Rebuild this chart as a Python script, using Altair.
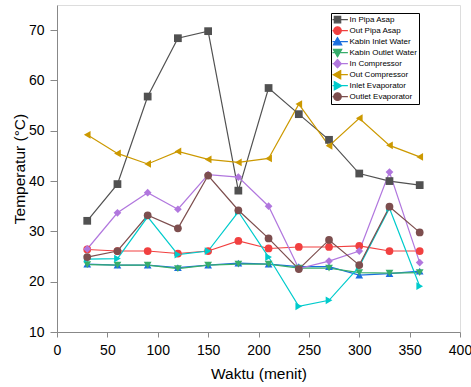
import math
import altair as alt
import pandas as pd

minutes = [30, 60, 90, 120, 150, 180, 210, 240, 270, 300, 330, 360]
series_names = ["In Pipa Asap", "Out Pipa Asap", "Kabin Inlet Water", "Kabin Outlet Water",
                "In Compressor", "Out Compressor", "Inlet Evaporator", "Outlet Evaporator"]
in_pipa_asap = [32.1, 39.4, 56.8, 68.4, 69.8, 38.1, 58.5, 53.3, 48.2, 41.5, 40.0, 39.2]
out_pipa_asap = [26.4, 26.1, 26.1, 25.6, 26.1, 28.1, 26.6, 26.9, 26.9, 27.1, 26.1, 26.1]
kabin_inlet_water = [23.5, 23.3, 23.3, 22.8, 23.3, 23.7, 23.5, 23.0, 23.0, 21.3, 21.6, 22.1]
kabin_outlet_water = [23.4, 23.3, 23.3, 22.6, 23.3, 23.5, 23.5, 22.7, 22.7, 21.8, 21.7, 21.8]
in_compressor = [26.5, 33.7, 37.7, 34.4, 41.3, 40.8, 35.0, 22.6, 24.1, 26.1, 41.8, 23.8]
out_compressor = [49.2, 45.5, 43.4, 45.9, 44.3, 43.7, 44.5, 55.3, 47.0, 52.5, 47.1, 44.8]
inlet_evaporator = [24.5, 24.6, 32.9, 25.4, 26.1, 33.9, 24.9, 15.1, 16.3, 23.0, 34.6, 19.1]
outlet_evaporator = [24.9, 26.1, 33.2, 30.6, 41.1, 34.2, 28.6, 22.5, 28.3, 23.3, 34.9, 29.8]

all_series = [in_pipa_asap, out_pipa_asap, kabin_inlet_water, kabin_outlet_water,
              in_compressor, out_compressor, inlet_evaporator, outlet_evaporator]
colors = ["#515151", "#F14040", "#1A6FDF", "#37AD6B", "#B177DE", "#CC9900", "#00CBCC", "#7D4E4E"]
shapes = ["square", "circle", "triangle-up", "triangle-down", "diamond",
          "triangle-left", "triangle-right", "circle"]

# legend glyphs: a short line through the marker (custom SVG paths in [-1, 1] units)
line_part = "M-2.6,0L2.6,0"
circle_path = "M" + "L".join(
    f"{0.95 * math.cos(2 * math.pi * k / 16):.3f},{0.95 * math.sin(2 * math.pi * k / 16):.3f}"
    for k in range(16)) + "Z"
legend_marks = [
    "M-0.8,-0.8L0.8,-0.8L0.8,0.8L-0.8,0.8Z",
    circle_path,
    "M0,-1.05L1.05,0.8L-1.05,0.8Z",
    "M0,1.05L1.05,-0.8L-1.05,-0.8Z",
    "M0,-1.05L0.95,0L0,1.05L-0.95,0Z",
    "M-1.05,0L0.8,-1.05L0.8,1.05Z",
    "M1.05,0L-0.8,-1.05L-0.8,1.05Z",
    circle_path,
]
legend_paths = [line_part + m for m in legend_marks]

point_keys = ["pt " + n for n in series_names]
all_keys = series_names + point_keys

rows = []
for name, pk, vals in zip(series_names, point_keys, all_series):
    for m, v in zip(minutes, vals):
        rows.append({"minute": m, "value": v, "series": name, "pkey": pk})
df = pd.DataFrame(rows)

FONT = "Liberation Sans"

x_enc = alt.X("minute:Q", scale=alt.Scale(domain=[0, 400], nice=False),
              axis=alt.Axis(values=list(range(0, 401, 25)),
                            labelExpr="datum.value % 50 === 0 ? datum.label : ''",
                            tickSize={"condition": {"test": "datum.value % 50 === 0", "value": 5}, "value": 3},
                            title="Waktu (menit)", grid=False, labelFontSize=14, titleFontSize=15.5,
                            titleFontWeight="normal", labelPadding=6, titlePadding=9,
                            labelFlush=False))
y_enc = alt.Y("value:Q", scale=alt.Scale(domain=[10, 75], nice=False, zero=False),
              axis=alt.Axis(values=list(range(10, 76, 5)),
                            labelExpr="datum.value % 10 === 0 ? datum.label : ''",
                            tickSize={"condition": {"test": "datum.value % 10 === 0", "value": 7}, "value": 4},
                            title="Temperatur (°C)", grid=False, labelFontSize=14, titleFontSize=15.5,
                            titleFontWeight="normal", labelPadding=6, titlePadding=1, labelFlush=False))

color_scale = alt.Scale(domain=series_names, range=colors)
key_color_scale = alt.Scale(domain=all_keys, range=colors + colors)
key_shape_scale = alt.Scale(domain=all_keys, range=legend_paths + shapes)

leg = alt.Legend(title=None, orient="none", legendX=274, legendY=8, values=series_names,
                 labelFontSize=8, labelFont=FONT, labelColor="#000000",
                 symbolSize=64, symbolStrokeWidth=1.2, rowPadding=-1, clipHeight=10.3,
                 labelOffset=7, padding=1.5, strokeColor="#000000", fillColor="#ffffff",
                 symbolOpacity=1)

lines = alt.Chart(df).mark_line(strokeWidth=1.2).encode(
    x=x_enc, y=y_enc,
    color=alt.Color("series:N", scale=color_scale, legend=None),
    detail="series:N",
)

points = alt.Chart(df).mark_point(filled=True, opacity=1, size=60, strokeWidth=0).encode(
    x="minute:Q", y="value:Q",
    fill=alt.Fill("pkey:N", scale=key_color_scale, legend=leg),
    shape=alt.Shape("pkey:N", scale=key_shape_scale, legend=leg),
)

legend_layer = alt.Chart(df).transform_filter("false").mark_point(filled=True, opacity=1, strokeWidth=1.2).encode(
    x="minute:Q", y="value:Q",
    fill=alt.Fill("series:N", scale=key_color_scale, legend=leg),
    stroke=alt.Stroke("series:N", scale=key_color_scale, legend=leg),
    shape=alt.Shape("series:N", scale=key_shape_scale, legend=leg),
)

chart = alt.layer(lines, points, legend_layer).properties(
    width=403, height=327,
    autosize=alt.AutoSizeParams(type="none"),
    padding={"left": 57, "top": 5, "right": 11, "bottom": 55},
).configure_view(stroke=None).configure_axis(
    labelFont=FONT, titleFont=FONT, titleFontWeight="normal",
    labelColor="#111111", titleColor="#111111",
    domainColor="#3a3a3a", tickColor="#3a3a3a", domainWidth=1.3, tickWidth=1.2,
).configure(background="white")

chart.save("out.html", embed_options={"renderer": "svg", "actions": False})
